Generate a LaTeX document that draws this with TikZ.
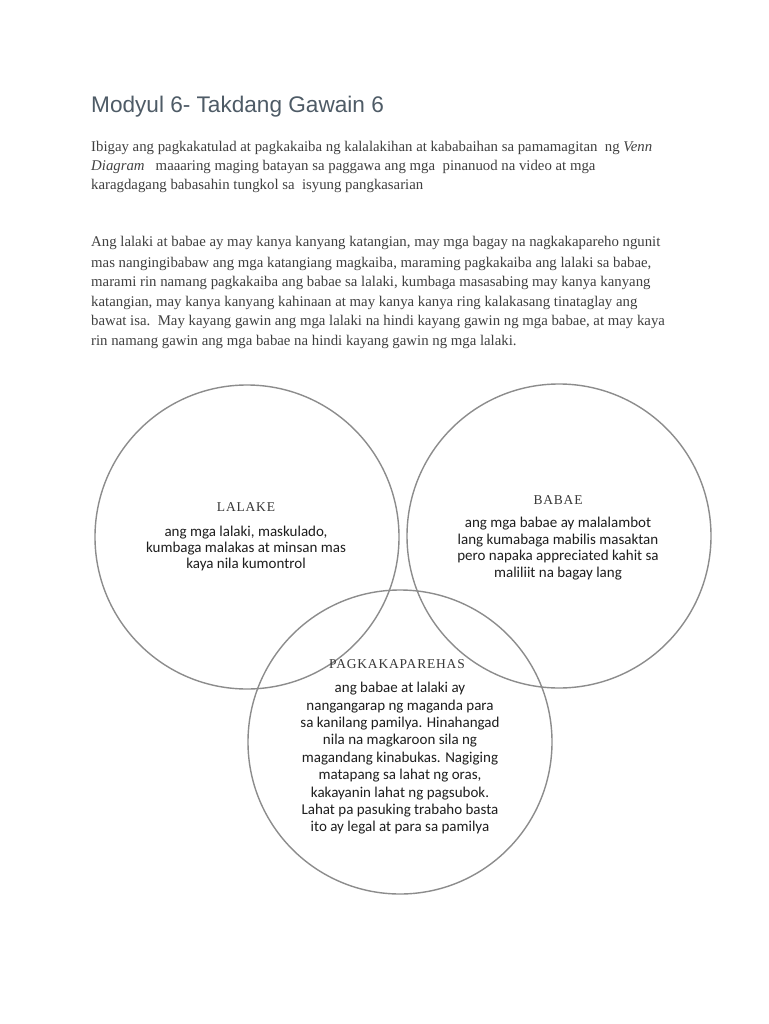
\documentclass[tikz,border=0pt]{standalone}
\usepackage{fontspec}
\setmainfont{Liberation Serif}
\newfontfamily\titlefont{Liberation Sans}
\newfontfamily\parafont{Liberation Serif}
\newfontfamily\vennfont{Carlito}
\newfontfamily\headfont[LetterSpace=6]{Liberation Serif}
\definecolor{titlecol}{HTML}{4E5B66}
\definecolor{paracol}{HTML}{404040}
\definecolor{circcol}{HTML}{8C8C8C}
\definecolor{headcol}{HTML}{383838}
\definecolor{vcol}{HTML}{1E1E1E}
\newcommand{\vlines}[1]{\begin{tabular}[t]{@{}c@{}}#1\end{tabular}}
\tikzset{
  titletext/.style={anchor=base west, inner sep=0pt, text=titlecol, font=\titlefont\fontsize{22.6}{26}\selectfont},
  paraline/.style={anchor=base west, inner sep=0pt, text=paracol, font=\parafont\fontsize{14.8}{19}\selectfont},
  venn/.style={circle, draw=circcol, line width=1.4pt, inner sep=0pt, minimum size=304pt},
  vhead/.style={anchor=base, inner sep=0pt, text=headcol, font=\headfont\fontsize{13.5}{16}\selectfont},
  vbody/.style={anchor=base, inner sep=0pt, text=vcol},
}
\begin{document}
\begin{tikzpicture}[x=1pt,y=-1pt]
\useasboundingbox (0,0) rectangle (768,1024);
\fill[white] (0,0) rectangle (768,1024);

\node[titletext] (title) at (91,113) {Modyul 6- Takdang Gawain 6};

\node[paraline] (a1) at (91,152) {Ibigay ang pagkakatulad at pagkakaiba ng kalalakihan at kababaihan sa pamamagitan\ \ ng \textit{Venn}};
\node[paraline] (a2) at (91,171) {\textit{Diagram}\ \ \ maaaring maging batayan sa paggawa ang mga\ \ pinanuod na video at mga};
\node[paraline] (a3) at (91,190) {karagdagang babasahin tungkol sa\ \ isyung pangkasarian};

\node[paraline] (b1) at (91,247) {Ang lalaki at babae ay may kanya kanyang katangian, may mga bagay na nagkakapareho ngunit};
\node[paraline] (b2) at (91,267) {mas nangingibabaw ang mga katangiang magkaiba, maraming pagkakaiba ang lalaki sa babae,};
\node[paraline] (b3) at (91,286) {marami rin namang pagkakaiba ang babae sa lalaki, kumbaga masasabing may kanya kanyang};
\node[paraline] (b4) at (91,306) {katangian, may kanya kanyang kahinaan at may kanya kanya ring kalakasang tinataglay ang};
\node[paraline] (b5) at (91,325) {bawat isa.\ \ May kayang gawin ang mga lalaki na hindi kayang gawin ng mga babae, at may kaya};
\node[paraline] (b6) at (91,345) {rin namang gawin ang mga babae na hindi kayang gawin ng mga lalaki.};

\node[venn] (L) at (247,537) {};
\node[venn] (R) at (559,536) {};
\node[venn] (B) at (400,742) {};

\node[vhead] (Lh) at (246,511.5) {LALAKE};
\node[vbody, font=\vennfont\fontsize{15}{16}\selectfont] (Lb) at (246,536.5)
  {\vlines{ang mga lalaki, maskulado,\\kumbaga malakas at minsan mas\\kaya nila kumontrol}};

\node[vhead] (Rh) at (558,504) {BABAE};
\node[vbody, font=\vennfont\fontsize{15}{16.6}\selectfont] (Rb) at (558,527.7)
  {\vlines{ang mga babae ay malalambot\\lang kumabaga mabilis masaktan\\pero napaka appreciated kahit sa\\maliliit na bagay lang}};

\node[vhead] (Bh) at (397,668.3) {PAGKAKAPAREHAS};
\node[vbody, font=\vennfont\fontsize{15}{17.4}\selectfont] (Bb) at (400,692.7)
  {\vlines{ang babae at lalaki ay\\nangangarap ng maganda para\\sa kanilang pamilya. Hinahangad\\nila na magkaroon sila ng\\magandang kinabukas. Nagiging\\matapang sa lahat ng oras,\\kakayanin lahat ng pagsubok.\\Lahat pa pasuking trabaho basta\\ito ay legal at para sa pamilya}};
\end{tikzpicture}
\end{document}
